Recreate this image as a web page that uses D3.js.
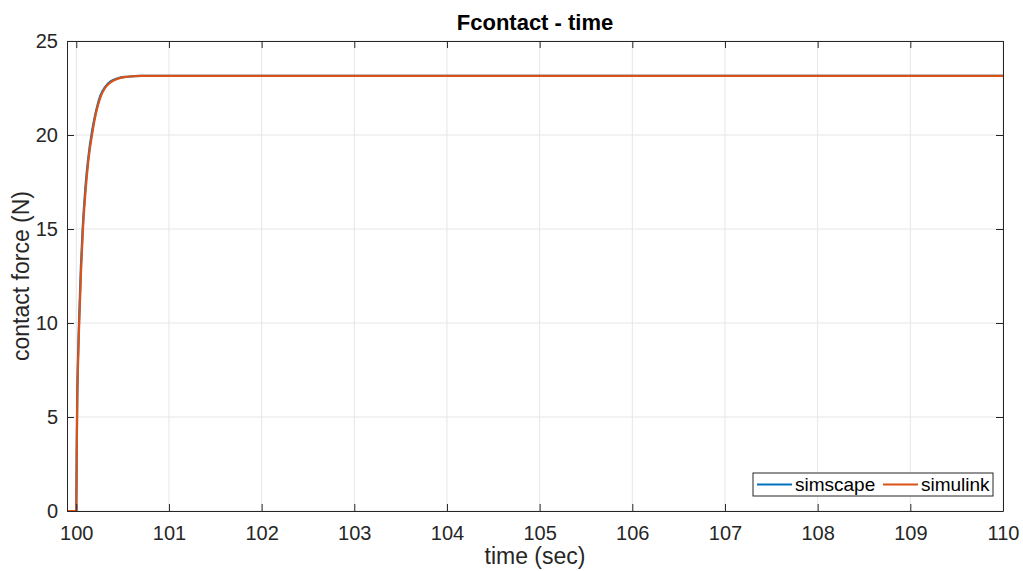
<!DOCTYPE html>
<html>
<head>
<meta charset="utf-8">
<script src="https://cdn.jsdelivr.net/npm/d3@7"></script>
<style>
  body { margin: 0; background: #fff; }
  svg { font-family: "Liberation Sans", Arial, sans-serif; }
</style>
</head>
<body>
<div id="container"></div>
<script>
// values
var xTicks = [100, 101, 102, 103, 104, 105, 106, 107, 108, 109, 110];
var yTicks = [0, 5, 10, 15, 20, 25];
var seriesNames = ["simscape", "simulink"];
var seriesColors = ["#0072BD", "#D95319"];

var simscapeT = [99.9, 100.0, 100.005, 100.01, 100.02, 100.03, 100.05, 100.07, 100.1, 100.13, 100.17, 100.21, 100.26, 100.31, 100.37, 100.45, 100.55, 100.7, 110];
var simscapeF = [0, 0, 3.3, 5.9, 8.4, 10.1, 13.0, 15.1, 17.3, 18.8, 20.2, 21.2, 22.1, 22.55, 22.85, 23.02, 23.1, 23.15, 23.15];

var simulinkT = [99.9, 100.0, 100.005, 100.01, 100.02, 100.03, 100.05, 100.07, 100.1, 100.13, 100.17, 100.21, 100.26, 100.31, 100.37, 100.45, 100.55, 100.7, 110];
var simulinkF = [0, 0, 3.0, 5.5, 8.0, 9.7, 12.6, 14.8, 17.0, 18.6, 20.0, 21.1, 22.0, 22.5, 22.8, 23.0, 23.1, 23.15, 23.15];

var width = 1023, height = 571;
var margin = { left: 67, right: 20, top: 41, bottom: 60 };

var svg = d3.select("#container").append("svg")
  .attr("width", width)
  .attr("height", height);

var x = d3.scaleLinear().domain([99.9, 110]).range([margin.left, width - margin.right]);
var y = d3.scaleLinear().domain([0, 25]).range([height - margin.bottom, margin.top]);

var x0 = x.range()[0], x1 = x.range()[1], y0 = y.range()[0], y1 = y.range()[1];

// grid
svg.append("g").selectAll("line").data(xTicks).enter().append("line")
  .attr("x1", function(d) { return x(d); }).attr("x2", function(d) { return x(d); })
  .attr("y1", y0).attr("y2", y1)
  .attr("stroke", "#e6e6e6").attr("stroke-width", 1);
svg.append("g").selectAll("line").data(yTicks).enter().append("line")
  .attr("x1", x0).attr("x2", x1)
  .attr("y1", function(d) { return y(d); }).attr("y2", function(d) { return y(d); })
  .attr("stroke", "#e6e6e6").attr("stroke-width", 1);

// lines
var series = [
  simscapeT.map(function(t, i) { return [t, simscapeF[i]]; }),
  simulinkT.map(function(t, i) { return [t, simulinkF[i]]; })
];
var line = d3.line()
  .x(function(d) { return x(d[0]); })
  .y(function(d) { return y(d[1]); })
  .curve(d3.curveMonotoneX);

svg.append("defs").append("clipPath").attr("id", "plotclip")
  .append("rect").attr("x", x0).attr("y", y1).attr("width", x1 - x0).attr("height", y0 - y1);

svg.append("g").attr("clip-path", "url(#plotclip)")
  .selectAll("path").data(series).enter().append("path")
  .attr("d", line)
  .attr("fill", "none")
  .attr("stroke", function(d, i) { return seriesColors[i]; })
  .attr("stroke-width", 2.2);

// axes
var axisColor = "#262626";
var axBottom = svg.append("g").attr("transform", "translate(0," + y0 + ")")
  .call(d3.axisBottom(x).tickValues(xTicks).tickSizeInner(-7).tickSizeOuter(0).tickPadding(15));
var axTop = svg.append("g").attr("transform", "translate(0," + y1 + ")")
  .call(d3.axisTop(x).tickValues(xTicks).tickSizeInner(-7).tickSizeOuter(0).tickFormat(""));
var axLeft = svg.append("g").attr("transform", "translate(" + x0 + ",0)")
  .call(d3.axisLeft(y).tickValues(yTicks).tickSizeInner(-7).tickSizeOuter(0).tickPadding(9));
var axRight = svg.append("g").attr("transform", "translate(" + x1 + ",0)")
  .call(d3.axisRight(y).tickValues(yTicks).tickSizeInner(-7).tickSizeOuter(0).tickFormat(""));

[axBottom, axTop, axLeft, axRight].forEach(function(g) {
  g.selectAll(".domain").attr("stroke", axisColor).attr("stroke-width", 1);
  g.selectAll(".tick line").attr("stroke", axisColor).attr("stroke-width", 1);
  g.selectAll(".tick text").attr("fill", axisColor).attr("font-size", 20)
    .attr("font-family", "Liberation Sans, Arial, sans-serif");
});

// titles
svg.append("text")
  .attr("x", (x0 + x1) / 2).attr("y", 30)
  .attr("text-anchor", "middle")
  .attr("font-size", 22).attr("font-weight", "bold").attr("fill", "#000")
  .text("Fcontact - time");

svg.append("text")
  .attr("x", (x0 + x1) / 2).attr("y", 564)
  .attr("text-anchor", "middle")
  .attr("font-size", 23).attr("fill", axisColor)
  .text("time (sec)");

svg.append("text")
  .attr("transform", "translate(29," + ((y0 + y1) / 2) + ") rotate(-90)")
  .attr("text-anchor", "middle")
  .attr("font-size", 23).attr("fill", axisColor)
  .text("contact force (N)");

// legend
var lg = svg.append("g").attr("transform", "translate(753,473)");
lg.append("rect").attr("width", 240).attr("height", 23)
  .attr("fill", "#fff").attr("stroke", axisColor).attr("stroke-width", 1);
var legendX = [4, 130];
seriesNames.forEach(function(name, i) {
  lg.append("line")
    .attr("x1", legendX[i]).attr("x2", legendX[i] + 35)
    .attr("y1", 11.5).attr("y2", 11.5)
    .attr("stroke", seriesColors[i]).attr("stroke-width", 2.2);
  lg.append("text")
    .attr("x", legendX[i] + 38).attr("y", 18)
    .attr("font-size", 19).attr("fill", "#000")
    .text(name);
});
</script>
</body>
</html>
